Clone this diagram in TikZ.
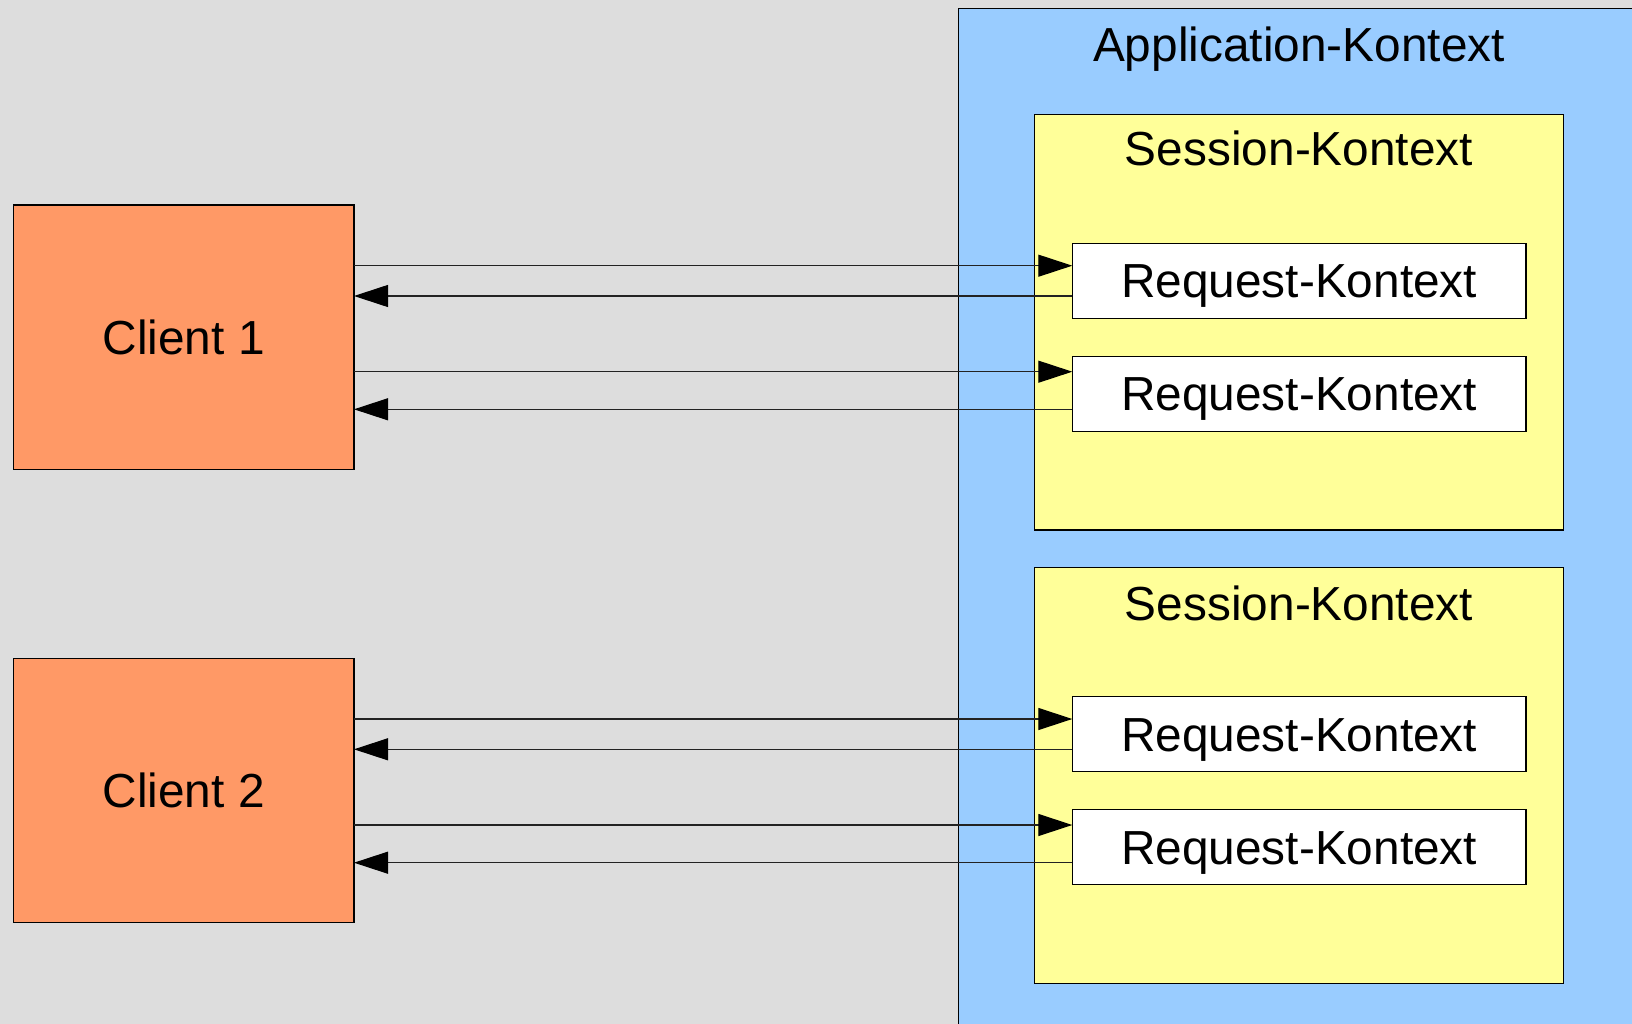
\documentclass[tikz,border=0pt]{standalone}
\usepackage{fontspec}
\setmainfont{Liberation Sans}
\usetikzlibrary{arrows.meta}
\definecolor{bggray}{HTML}{DDDDDD}
\definecolor{appblue}{HTML}{99CCFF}
\definecolor{sessyellow}{HTML}{FFFF99}
\definecolor{clientorange}{HTML}{FF9966}
\definecolor{linegray}{HTML}{222222}
\begin{document}
\begin{tikzpicture}[x=1pt,y=-1pt,
  box/.style={draw=black, line width=1.2pt, inner sep=0pt, outer sep=0pt, anchor=north west,
    font=\fontsize{47.8}{57}\selectfont, text height=34pt, text depth=0pt},
  clientbox/.style={box, fill=clientorange, minimum width=340.7pt, minimum height=264.3pt},
  sessbox/.style={box, fill=sessyellow, minimum width=529.4pt, minimum height=415.7pt},
  reqbox/.style={box, fill=white, minimum width=453.7pt, minimum height=75pt},
  title/.style={anchor=base, inner sep=0pt, font=\fontsize{47.8}{57}\selectfont},
  fwd/.style={draw=linegray, line width=1.1pt, -{Triangle[length=34pt,width=22pt,color=black,fill=black]}},
  back/.style={draw=linegray, line width=1.1pt, -{Triangle[length=34pt,width=22pt,color=black,fill=black]}}
]
\useasboundingbox (0,0) rectangle (1632,1024);
\fill[bggray] (0,0) rectangle (1632,1024);
% application context
\node[box, fill=appblue, minimum width=700pt, minimum height=1030pt] (app) at (958.3,8.3) {};
\node[title] (apptitle) at (1299,61.7) {Application-Kontext};
% session contexts
\node[sessbox] (s1) at (1034.3,114.3) {};
\node[title] (s1title) at (1299,166) {Session-Kontext};
\node[sessbox] (s2) at (1034.3,567.8) {};
\node[title] (s2title) at (1299,620) {Session-Kontext};
% request contexts
\node[reqbox] (r1) at (1072.3,243.3) {Request-Kontext};
\node[reqbox] (r2) at (1072.3,356.3) {Request-Kontext};
\node[reqbox] (r3) at (1072.3,696.8) {Request-Kontext};
\node[reqbox] (r4) at (1072.3,809.8) {Request-Kontext};
% clients
\node[clientbox] (c1) at (13.3,205) {Client 1};
\node[clientbox] (c2) at (13.3,658.5) {Client 2};
% connector levels
\coordinate (y1f) at (0,265.7);
\coordinate (y1b) at (0,296);
\coordinate (y2f) at (0,371.7);
\coordinate (y2b) at (0,409.3);
\coordinate (y3f) at (0,719);
\coordinate (y3b) at (0,749.3);
\coordinate (y4f) at (0,825);
\coordinate (y4b) at (0,862.7);
% connectors
\draw[fwd] (c1.east |- y1f) -- (r1.west |- y1f);
\draw[back] (r1.west |- y1b) -- (c1.east |- y1b);
\draw[fwd] (c1.east |- y2f) -- (r2.west |- y2f);
\draw[back] (r2.west |- y2b) -- (c1.east |- y2b);
\draw[fwd] (c2.east |- y3f) -- (r3.west |- y3f);
\draw[back] (r3.west |- y3b) -- (c2.east |- y3b);
\draw[fwd] (c2.east |- y4f) -- (r4.west |- y4f);
\draw[back] (r4.west |- y4b) -- (c2.east |- y4b);
\end{tikzpicture}
\end{document}
